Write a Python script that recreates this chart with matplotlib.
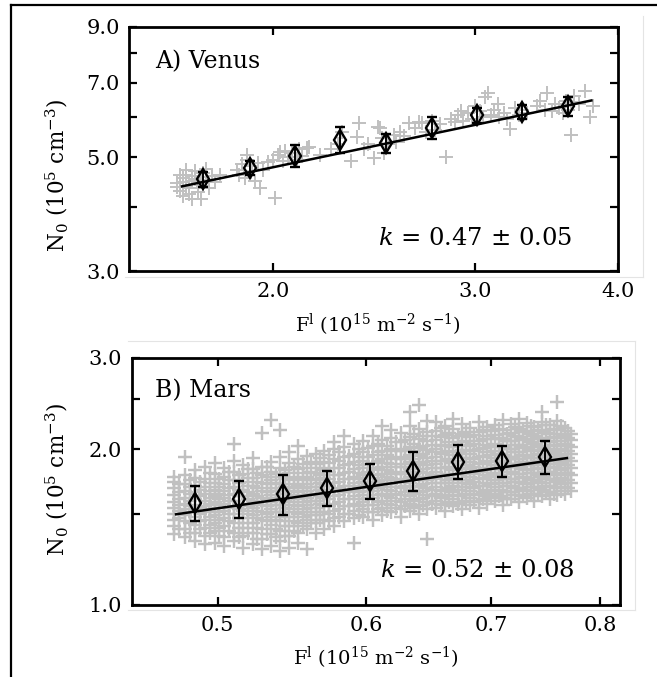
import matplotlib
matplotlib.use("Agg")
import matplotlib.pyplot as plt
from matplotlib.lines import Line2D
from matplotlib.ticker import FixedLocator, NullFormatter, NullLocator

plt.rcParams['font.family'] = ['DejaVu Serif']
plt.rcParams['mathtext.fontset'] = 'dejavuserif'

# ---- Venus: individual measurements (F, N0) ----
venus_x = [1.65, 1.66, 1.67, 1.67, 1.68, 1.68, 1.69, 1.70, 1.70, 1.71, 1.72, 1.72,
           1.73, 1.74, 1.75, 1.75, 1.76, 1.77, 1.78, 1.80, 1.66, 1.69, 1.73,
           1.65, 1.67, 1.70, 1.72, 1.74, 1.68, 1.71,
           1.86, 1.87, 1.88, 1.89, 1.90, 1.91, 1.92, 1.93, 1.95, 1.94, 1.96, 1.98,
           2.01, 1.90,
           2.00, 2.02, 2.04, 2.05, 2.06, 2.08, 2.10, 2.11, 2.12, 2.14, 2.03, 2.15,
           2.20, 2.25, 2.30, 2.34, 2.37, 2.38, 2.40, 2.42, 2.28, 2.45, 2.47,
           2.49, 2.50, 2.52, 2.55, 2.56, 2.58, 2.60, 2.48, 2.63, 2.66, 2.70,
           2.68, 2.72, 2.75, 2.77, 2.80, 2.83, 2.86, 2.88, 2.90, 2.93,
           2.96, 2.98, 3.00, 3.03, 3.05, 3.08, 3.10, 3.12, 3.15, 3.18, 3.22, 3.25,
           3.28, 3.30, 3.33, 3.06, 2.92, 3.14, 3.20,
           3.40, 3.45, 3.47, 3.52, 3.55, 3.60, 3.64, 3.64, 3.70, 3.74, 3.78, 3.80,
           3.58, 3.62, 3.66, 3.42, 3.50]
venus_y = [4.45, 4.30, 4.20, 4.55, 4.40, 4.62, 4.35, 4.50, 4.15, 4.70, 4.45, 4.28,
           4.58, 4.40, 4.52, 4.75, 4.35, 4.60, 4.48, 4.62, 4.62, 4.25, 4.15,
           4.38, 4.48, 4.60, 4.36, 4.66, 4.72, 4.54,
           4.72, 4.62, 4.85, 4.55, 4.95, 4.70, 4.80, 4.50, 4.36, 4.88, 4.72, 4.90,
           4.16, 5.05,
           4.95, 5.05, 4.92, 5.15, 5.00, 5.10, 4.95, 5.20, 5.02, 5.21, 5.12, 5.24,
           5.05, 5.20, 5.60, 4.93, 5.47, 5.83, 5.18, 5.30, 5.30, 4.99, 5.73,
           5.45, 5.10, 5.30, 5.52, 5.35, 5.60, 5.50, 5.70, 5.83, 5.70, 5.83,
           5.85, 5.60, 5.90, 5.65, 5.80, 5.01, 5.95, 5.85, 6.05, 5.90,
           6.10, 5.95, 6.30, 6.15, 6.00, 6.68, 6.05, 6.20, 6.00, 6.10, 5.67, 6.25,
           6.05, 6.20, 6.10, 6.55, 6.15, 6.35, 5.95,
           6.30, 6.20, 6.68, 6.35, 6.25, 6.45, 6.40, 5.52, 6.35, 6.73, 6.00, 6.30,
           6.10, 6.20, 6.60, 6.45, 6.15]

# ---- Venus: binned means with errors ----
venus_bin_x = [1.74, 1.91, 2.09, 2.29, 2.51, 2.75, 3.01, 3.30, 3.62]
venus_bin_y = [4.53, 4.76, 5.04, 5.41, 5.33, 5.71, 6.04, 6.13, 6.29]
venus_bin_err = [0.16, 0.15, 0.25, 0.32, 0.22, 0.29, 0.21, 0.19, 0.27]
venus_fit_range = [1.667, 3.79]
venus_amp, venus_k = 3.452, 0.47

# ---- Mars: individual measurements, grouped by F column ----
mars_cols_x = [0.474, 0.480, 0.486, 0.492, 0.498, 0.504, 0.510, 0.516, 0.522, 0.528,
               0.534, 0.540, 0.546, 0.552, 0.558, 0.564, 0.570, 0.577, 0.584, 0.591,
               0.598, 0.605, 0.612, 0.619, 0.626, 0.633, 0.640, 0.647, 0.654, 0.661,
               0.668, 0.675, 0.682, 0.689, 0.696, 0.703, 0.710, 0.717, 0.724, 0.731,
               0.738, 0.745, 0.752, 0.759, 0.766, 0.772]
mars_cols_y = [
    [1.37, 1.42, 1.46, 1.50, 1.54, 1.58, 1.63, 1.68, 1.73, 1.77],
    [1.35, 1.40, 1.45, 1.49, 1.53, 1.57, 1.61, 1.66, 1.71, 1.78, 1.93],
    [1.33, 1.38, 1.43, 1.48, 1.52, 1.56, 1.60, 1.65, 1.70, 1.76, 1.82],
    [1.31, 1.36, 1.41, 1.46, 1.51, 1.55, 1.59, 1.64, 1.69, 1.75, 1.85],
    [1.32, 1.39, 1.44, 1.49, 1.54, 1.58, 1.62, 1.67, 1.72, 1.79, 1.88],
    [1.30, 1.35, 1.42, 1.47, 1.52, 1.57, 1.61, 1.66, 1.71, 1.77, 1.84],
    [1.33, 1.38, 1.44, 1.50, 1.55, 1.59, 1.64, 1.69, 1.74, 1.81, 1.90, 2.05],
    [1.29, 1.36, 1.41, 1.47, 1.52, 1.57, 1.62, 1.67, 1.73, 1.79, 1.86],
    [1.31, 1.38, 1.44, 1.49, 1.54, 1.59, 1.64, 1.70, 1.76, 1.83, 1.92],
    [1.28, 1.34, 1.40, 1.46, 1.51, 1.56, 1.61, 1.66, 1.72, 1.78, 1.85, 2.15],
    [1.30, 1.37, 1.43, 1.48, 1.53, 1.58, 1.63, 1.68, 1.74, 1.81, 1.89, 2.28],
    [1.27, 1.33, 1.39, 1.45, 1.51, 1.56, 1.61, 1.66, 1.71, 1.77, 1.84, 1.93, 2.18],
    [1.29, 1.36, 1.42, 1.48, 1.53, 1.58, 1.63, 1.68, 1.74, 1.80, 1.88, 1.97],
    [1.32, 1.38, 1.44, 1.50, 1.55, 1.60, 1.65, 1.70, 1.76, 1.83, 1.91, 2.03],
    [1.28, 1.40, 1.46, 1.51, 1.56, 1.61, 1.66, 1.71, 1.77, 1.84, 1.94],
    [1.38, 1.44, 1.49, 1.54, 1.59, 1.64, 1.69, 1.74, 1.80, 1.87, 1.96],
    [1.40, 1.46, 1.51, 1.56, 1.61, 1.66, 1.71, 1.76, 1.82, 1.89, 1.98],
    [1.42, 1.47, 1.52, 1.57, 1.62, 1.67, 1.72, 1.78, 1.84, 1.91, 2.00, 2.06],
    [1.45, 1.50, 1.55, 1.60, 1.65, 1.70, 1.75, 1.80, 1.86, 1.93, 2.02, 2.12],
    [1.32, 1.47, 1.52, 1.57, 1.62, 1.67, 1.72, 1.77, 1.83, 1.89, 1.96, 2.05],
    [1.48, 1.53, 1.58, 1.63, 1.68, 1.73, 1.78, 1.84, 1.90, 1.97, 2.07],
    [1.46, 1.51, 1.56, 1.61, 1.66, 1.71, 1.76, 1.82, 1.88, 1.95, 2.03, 2.12],
    [1.49, 1.54, 1.59, 1.64, 1.69, 1.74, 1.79, 1.85, 1.91, 1.98, 2.08, 2.22],
    [1.51, 1.56, 1.61, 1.66, 1.71, 1.76, 1.81, 1.87, 1.93, 2.00, 2.10, 2.18],
    [1.48, 1.53, 1.58, 1.63, 1.68, 1.73, 1.79, 1.85, 1.91, 1.98, 2.06, 2.15],
    [1.52, 1.57, 1.62, 1.67, 1.72, 1.77, 1.83, 1.89, 1.95, 2.02, 2.11, 2.22, 2.36],
    [1.50, 1.55, 1.60, 1.65, 1.70, 1.75, 1.81, 1.87, 1.94, 2.01, 2.09, 2.19, 2.43],
    [1.34, 1.53, 1.58, 1.63, 1.68, 1.74, 1.80, 1.86, 1.92, 1.99, 2.07, 2.16, 2.27],
    [1.54, 1.59, 1.64, 1.69, 1.75, 1.81, 1.87, 1.93, 2.00, 2.08, 2.17, 2.26],
    [1.52, 1.57, 1.62, 1.67, 1.72, 1.78, 1.84, 1.90, 1.97, 2.04, 2.13, 2.22],
    [1.55, 1.60, 1.65, 1.70, 1.76, 1.82, 1.88, 1.95, 2.02, 2.10, 2.19, 2.29],
    [1.53, 1.58, 1.63, 1.69, 1.74, 1.80, 1.86, 1.92, 1.99, 2.06, 2.14, 2.24],
    [1.56, 1.61, 1.66, 1.71, 1.77, 1.83, 1.89, 1.96, 2.03, 2.11, 2.20],
    [1.54, 1.59, 1.64, 1.70, 1.75, 1.81, 1.87, 1.93, 2.00, 2.07, 2.16, 2.26],
    [1.57, 1.62, 1.67, 1.72, 1.78, 1.84, 1.90, 1.97, 2.04, 2.12, 2.21],
    [1.59, 1.64, 1.69, 1.74, 1.80, 1.86, 1.92, 1.98, 2.05, 2.13, 2.23],
    [1.56, 1.61, 1.66, 1.72, 1.77, 1.83, 1.89, 1.95, 2.02, 2.09, 2.18, 2.28],
    [1.60, 1.65, 1.70, 1.75, 1.81, 1.87, 1.93, 2.00, 2.07, 2.15, 2.24],
    [1.58, 1.63, 1.68, 1.73, 1.79, 1.85, 1.91, 1.97, 2.04, 2.11, 2.19, 2.29],
    [1.61, 1.66, 1.71, 1.76, 1.82, 1.88, 1.94, 2.01, 2.08, 2.16, 2.25],
    [1.59, 1.64, 1.69, 1.74, 1.80, 1.86, 1.92, 1.98, 2.05, 2.12, 2.21],
    [1.62, 1.67, 1.72, 1.77, 1.83, 1.89, 1.95, 2.02, 2.09, 2.17, 2.26, 2.36],
    [1.60, 1.65, 1.70, 1.75, 1.81, 1.87, 1.93, 1.99, 2.06, 2.14, 2.23],
    [1.63, 1.68, 1.73, 1.78, 1.84, 1.90, 1.96, 2.03, 2.10, 2.18, 2.27, 2.47],
    [1.64, 1.69, 1.74, 1.80, 1.86, 1.92, 1.98, 2.05, 2.12, 2.20],
    [1.66, 1.72, 1.78, 1.84, 1.90, 1.96, 2.02, 2.08, 2.14],
]

# in-between columns of the dense Mars core
mars_mid_x = [0.477, 0.483, 0.489, 0.495, 0.501, 0.507, 0.513, 0.519, 0.525, 0.531,
              0.537, 0.543, 0.549, 0.555, 0.561, 0.567, 0.5735, 0.5805, 0.5875, 0.5945,
              0.6015, 0.6085, 0.6155, 0.6225, 0.6295, 0.6365, 0.6435, 0.6505, 0.6575,
              0.6645, 0.6715, 0.6785, 0.6855, 0.6925, 0.6995, 0.7065, 0.7135, 0.7205,
              0.7275, 0.7345, 0.7415, 0.7485, 0.7555, 0.7625, 0.769]
mars_mid_y = [
    [1.40, 1.47, 1.52, 1.56, 1.60, 1.65, 1.71],
    [1.38, 1.44, 1.51, 1.55, 1.59, 1.64, 1.69, 1.74],
    [1.40, 1.45, 1.50, 1.54, 1.62, 1.67, 1.73],
    [1.38, 1.43, 1.48, 1.53, 1.57, 1.61, 1.66, 1.72, 1.80],
    [1.36, 1.41, 1.46, 1.51, 1.56, 1.60, 1.64, 1.69, 1.75],
    [1.39, 1.45, 1.50, 1.54, 1.59, 1.63, 1.68, 1.74, 1.81],
    [1.35, 1.41, 1.47, 1.53, 1.57, 1.62, 1.67, 1.72, 1.78],
    [1.38, 1.44, 1.50, 1.55, 1.60, 1.65, 1.70, 1.76, 1.83],
    [1.34, 1.41, 1.47, 1.52, 1.57, 1.62, 1.68, 1.73, 1.80],
    [1.37, 1.45, 1.50, 1.55, 1.60, 1.65, 1.71, 1.77, 1.85],
    [1.35, 1.40, 1.46, 1.51, 1.56, 1.61, 1.66, 1.72, 1.79],
    [1.36, 1.42, 1.48, 1.54, 1.59, 1.64, 1.69, 1.75, 1.82],
    [1.39, 1.45, 1.51, 1.56, 1.61, 1.66, 1.71, 1.77, 1.85],
    [1.42, 1.48, 1.53, 1.58, 1.63, 1.68, 1.74, 1.80, 1.87],
    [1.44, 1.49, 1.54, 1.59, 1.64, 1.69, 1.75, 1.81, 1.89],
    [1.46, 1.51, 1.57, 1.62, 1.67, 1.72, 1.78, 1.84, 1.92],
    [1.45, 1.50, 1.55, 1.60, 1.65, 1.70, 1.75, 1.81, 1.88, 1.95],
    [1.48, 1.53, 1.58, 1.63, 1.68, 1.73, 1.78, 1.84, 1.90, 1.97],
    [1.50, 1.55, 1.60, 1.65, 1.70, 1.75, 1.81, 1.87, 1.94],
    [1.49, 1.55, 1.60, 1.65, 1.70, 1.75, 1.80, 1.86, 1.93, 2.00],
    [1.51, 1.56, 1.61, 1.66, 1.71, 1.76, 1.81, 1.87, 1.93, 2.01],
    [1.53, 1.58, 1.63, 1.68, 1.73, 1.78, 1.84, 1.90, 1.97, 2.05],
    [1.52, 1.57, 1.62, 1.67, 1.72, 1.77, 1.82, 1.88, 1.95, 2.03],
    [1.54, 1.59, 1.64, 1.69, 1.74, 1.79, 1.85, 1.91, 1.98, 2.06],
    [1.55, 1.60, 1.65, 1.70, 1.75, 1.81, 1.87, 1.93, 2.00, 2.08],
    [1.54, 1.59, 1.64, 1.69, 1.74, 1.79, 1.85, 1.91, 1.98, 2.05, 2.14],
    [1.56, 1.61, 1.66, 1.71, 1.77, 1.83, 1.89, 1.96, 2.03, 2.12],
    [1.57, 1.62, 1.67, 1.72, 1.78, 1.84, 1.90, 1.97, 2.04, 2.12],
    [1.56, 1.61, 1.66, 1.72, 1.78, 1.84, 1.90, 1.96, 2.03, 2.11, 2.20],
    [1.58, 1.63, 1.68, 1.74, 1.79, 1.85, 1.91, 1.98, 2.06, 2.15],
    [1.57, 1.62, 1.67, 1.72, 1.78, 1.84, 1.90, 1.97, 2.04, 2.12],
    [1.59, 1.64, 1.69, 1.74, 1.80, 1.86, 1.92, 1.99, 2.07, 2.16],
    [1.58, 1.63, 1.68, 1.73, 1.79, 1.85, 1.91, 1.98, 2.05, 2.13],
    [1.60, 1.65, 1.70, 1.76, 1.82, 1.88, 1.94, 2.01, 2.09, 2.18],
    [1.61, 1.66, 1.71, 1.77, 1.83, 1.89, 1.95, 2.02, 2.09, 2.17],
    [1.62, 1.67, 1.72, 1.78, 1.84, 1.90, 1.96, 2.03, 2.10, 2.19],
    [1.60, 1.65, 1.70, 1.75, 1.81, 1.87, 1.93, 2.00, 2.07, 2.14],
    [1.63, 1.68, 1.73, 1.79, 1.85, 1.91, 1.97, 2.04, 2.12, 2.21],
    [1.62, 1.67, 1.72, 1.77, 1.83, 1.89, 1.95, 2.02, 2.09, 2.17],
    [1.64, 1.69, 1.74, 1.80, 1.86, 1.92, 1.99, 2.06, 2.14, 2.22],
    [1.63, 1.68, 1.73, 1.78, 1.84, 1.90, 1.96, 2.03, 2.10, 2.18],
    [1.65, 1.70, 1.75, 1.81, 1.87, 1.93, 2.00, 2.07, 2.15, 2.23],
    [1.64, 1.69, 1.74, 1.79, 1.85, 1.91, 1.97, 2.04, 2.11, 2.19],
    [1.66, 1.71, 1.76, 1.82, 1.88, 1.94, 2.00, 2.07, 2.14, 2.22],
    [1.68, 1.74, 1.80, 1.86, 1.92, 1.98, 2.04, 2.10, 2.17],
]

# ---- Mars: binned means with errors ----
mars_bin_x = [0.486, 0.513, 0.542, 0.572, 0.603, 0.636, 0.672, 0.709, 0.748]
mars_bin_y = [1.576, 1.602, 1.636, 1.681, 1.736, 1.815, 1.892, 1.900, 1.932]
mars_bin_err = [0.124, 0.13, 0.144, 0.13, 0.136, 0.157, 0.14, 0.131, 0.143]
mars_fit_range = [0.475, 0.768]
mars_amp, mars_k = 2.204, 0.52

mars_x = []
mars_y = []
for cx, cy in list(zip(mars_cols_x, mars_cols_y)) + list(zip(mars_mid_x, mars_mid_y)):
    mars_x += [cx] * len(cy)
    mars_y += cy

gray = '#c0c0c0'
fig = plt.figure(figsize=(6.57, 6.77), dpi=100)

# faint box lines left over from the original figure export
for xs, ys in [([0.19, 0.979], [0.591, 0.591]), ([0.979, 0.979], [0.591, 0.977]),
               ([0.195, 0.967], [0.497, 0.497]), ([0.967, 0.967], [0.099, 0.497]),
               ([0.195, 0.967], [0.099, 0.099])]:
    fig.add_artist(Line2D(xs, ys, color='#e4e4e4', lw=0.8))

# black frame on top and left
fig.add_artist(Line2D([0.0167, 1.0], [0.992, 0.992], color='black', lw=1.6))
fig.add_artist(Line2D([0.0167, 0.0167], [0.0, 0.992], color='black', lw=1.6))

ax1 = fig.add_axes([0.197, 0.5997, 0.744, 0.361])
ax2 = fig.add_axes([0.201, 0.1064, 0.743, 0.365])


def draw_panel(ax, px, py, bx, by, berr, frange, amp, k, pmew):
    ax.plot(px, py, '+', color=gray, ms=10, mew=pmew, zorder=1)
    fx = frange
    fy = [amp * v ** k for v in fx]
    ax.plot(fx, fy, '-', color='black', lw=1.8, zorder=3)
    ax.errorbar(bx, by, yerr=berr, fmt='d', ms=10.5, mfc='none', mec='black',
                mew=1.7, ecolor='black', elinewidth=1.4, capsize=3.3,
                capthick=1.4, zorder=4)
    ax.set_xscale('log')
    ax.set_yscale('log')
    for s in ax.spines.values():
        s.set_linewidth(2.0)
    ax.tick_params(which='both', direction='in', top=True, right=True,
                   length=6, width=1.6, labelsize=15)
    ax.tick_params(axis='y', pad=7)
    ax.tick_params(axis='x', pad=8)


draw_panel(ax1, venus_x, venus_y, venus_bin_x, venus_bin_y, venus_bin_err,
           venus_fit_range, venus_amp, venus_k, 1.4)
ax1.set_xlim(1.5, 4.0)
ax1.set_ylim(3.0, 9.0)
ax1.xaxis.set_major_locator(FixedLocator([2.0, 3.0, 4.0]))
ax1.xaxis.set_ticklabels(['2.0', '3.0', '4.0'])
ax1.xaxis.set_minor_locator(NullLocator())
ax1.yaxis.set_major_locator(FixedLocator([3.0, 5.0, 7.0, 9.0]))
ax1.yaxis.set_ticklabels(['3.0', '5.0', '7.0', '9.0'])
ax1.yaxis.set_minor_locator(FixedLocator([4.0, 6.0, 8.0]))
ax1.yaxis.set_minor_formatter(NullFormatter())
ax1.text(0.052, 0.857, 'A) Venus', transform=ax1.transAxes, fontsize=17,
         ha='left', va='center')
ax1.text(0.905, 0.131, r'$k$ = 0.47 $\pm$ 0.05', transform=ax1.transAxes,
         fontsize=17.5, ha='right', va='center')
ax1.text(-0.148, 0.393, r'N$_0$ (10$^5$ cm$^{-3}$)', transform=ax1.transAxes,
         fontsize=15.5, rotation=90, ha='center', va='center')
ax1.text(0.508, -0.22, r'F$^{\rm l}$ (10$^{15}$ m$^{-2}$ s$^{-1}$)',
         transform=ax1.transAxes, fontsize=14, ha='center', va='center')

draw_panel(ax2, mars_x, mars_y, mars_bin_x, mars_bin_y, mars_bin_err,
           mars_fit_range, mars_amp, mars_k, 1.75)
ax2.set_xlim(0.45, 0.82)
ax2.set_ylim(1.0, 3.0)
ax2.xaxis.set_major_locator(FixedLocator([0.5, 0.6, 0.7, 0.8]))
ax2.xaxis.set_ticklabels(['0.5', '0.6', '0.7', '0.8'])
ax2.xaxis.set_minor_locator(NullLocator())
ax2.yaxis.set_major_locator(FixedLocator([1.0, 2.0, 3.0]))
ax2.yaxis.set_ticklabels(['1.0', '2.0', '3.0'])
ax2.yaxis.set_minor_locator(FixedLocator([1.5, 2.5]))
ax2.yaxis.set_minor_formatter(NullFormatter())
ax2.text(0.047, 0.866, 'B) Mars', transform=ax2.transAxes, fontsize=17,
         ha='left', va='center')
ax2.text(0.906, 0.138, r'$k$ = 0.52 $\pm$ 0.08', transform=ax2.transAxes,
         fontsize=17.5, ha='right', va='center')
ax2.text(-0.155, 0.51, r'N$_0$ (10$^5$ cm$^{-3}$)', transform=ax2.transAxes,
         fontsize=15.5, rotation=90, ha='center', va='center')
ax2.text(0.5, -0.215, r'F$^{\rm l}$ (10$^{15}$ m$^{-2}$ s$^{-1}$)',
         transform=ax2.transAxes, fontsize=14, ha='center', va='center')

fig.savefig('out.png', dpi=100)
